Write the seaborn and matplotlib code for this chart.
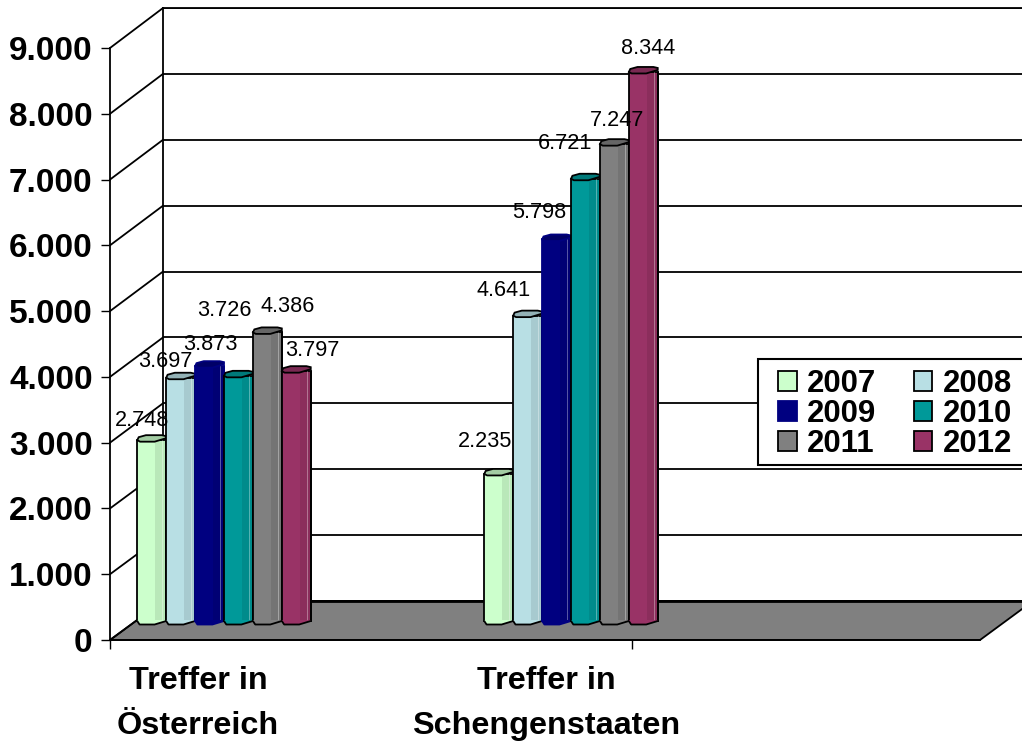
import numpy as np
import pandas as pd
import matplotlib
matplotlib.use("Agg")
import matplotlib.pyplot as plt
from matplotlib.lines import Line2D
from matplotlib.patches import Polygon, Rectangle
import seaborn as sns

# ---- data ----
categories = ["Treffer in\nÖsterreich", "Treffer in\nSchengenstaaten"]
years = ["2007", "2008", "2009", "2010", "2011", "2012"]
values_at = [2748, 3697, 3873, 3726, 4386, 3797]
values_schengen = [2235, 4641, 5798, 6721, 7247, 8344]
colors = ["#CCFFCC", "#B8DFE4", "#000080", "#009999", "#808080", "#993366"]
y_ticks = [0, 1000, 2000, 3000, 4000, 5000, 6000, 7000, 8000, 9000]

W, H = 1022, 743
sns.set_style("white")
plt.rcParams["font.family"] = ["Liberation Sans", "DejaVu Sans"]
fig = plt.figure(figsize=(W / 100, H / 100), dpi=100)
LW = 1.3


def fx(x):
    return x / W


def fy(y):
    return 1 - y / H


def add_axes_px(x0, y_top, x1, y_bottom, **kw):
    return fig.add_axes([fx(x0), fy(y_bottom), (x1 - x0) / W, (y_bottom - y_top) / H], **kw)


fmt = lambda v: f"{v:,}".replace(",", ".")

# ---- back wall ----
back_y0, back_y9 = 601, 8
front_y0, front_y9 = 640, 48
back_x, front_x = 163, 110
ax_back = add_axes_px(back_x, back_y9, W + 5, back_y0, zorder=1)
ax_back.set_ylim(0, 9000)
ax_back.set_xlim(0, 1)
ax_back.set_yticks(y_ticks)
ax_back.set_xticks([])
ax_back.tick_params(left=False, labelleft=False)
ax_back.yaxis.grid(True, color="black", lw=LW)
ax_back.set_axisbelow(True)
for side, sp in ax_back.spines.items():
    sp.set_visible(side in ("left", "top"))
    sp.set_color("black")
    sp.set_linewidth(LW)

# ---- floor ----
floor = Polygon(
    [(fx(front_x), fy(front_y0)), (fx(980), fy(front_y0)), (fx(1033), fy(back_y0)), (fx(back_x), fy(back_y0))],
    closed=True, transform=fig.transFigure, facecolor="#808080", edgecolor="black", lw=LW, zorder=2,
)
fig.add_artist(floor)
fig.add_artist(Line2D([fx(back_x), fx(W)], [fy(back_y0)] * 2, transform=fig.transFigure, color="black", lw=2.0, zorder=2))

# ---- side wall diagonals ----
for v in y_ticks:
    yf = front_y0 + (front_y9 - front_y0) * v / 9000
    yb = back_y0 + (back_y9 - back_y0) * v / 9000
    fig.add_artist(Line2D([fx(front_x), fx(back_x)], [fy(yf), fy(yb)], transform=fig.transFigure,
                          color="black", lw=LW, zorder=2))

# ---- front value axis ----
ax_front = add_axes_px(front_x, front_y9, 980, front_y0, zorder=2.5)
ax_front.patch.set_alpha(0)
ax_front.set_ylim(0, 9000)
ax_front.set_xlim(0, 870)
ax_front.set_yticks(y_ticks, [fmt(v) for v in y_ticks])
ax_front.set_xticks([0, 522], ["", ""])
ax_front.tick_params(axis="both", length=6.5, width=1.0, color="black", left=True, bottom=True)
ax_front.tick_params(axis="y", labelsize=24, pad=6)
for lab in ax_front.get_yticklabels():
    lab.set_fontweight("bold")
    lab.set_color("black")
for side, sp in ax_front.spines.items():
    sp.set_visible(side in ("left", "bottom"))
    sp.set_color("black")
    sp.set_linewidth(LW)

# ---- bars ----
df = pd.DataFrame({
    "cat": [categories[0]] * 6 + [categories[1]] * 6,
    "year": years * 2,
    "value": values_at + values_schengen,
})
ax = fig.add_axes([0, 0, 1, 1], zorder=3)
ax.patch.set_alpha(0)
sns.barplot(data=df, x="cat", y="value", hue="year", hue_order=years, palette=colors, saturation=1,
            width=0.5, gap=0, edgecolor="black", linewidth=LW, ax=ax)

px_x, group0, group1 = 347.0, 224.0, 571.0   # pixels per category, group centres
px_per_val = 0.0658
zero_y = 621.0
ax.set_xlim(-group0 / px_x, (W - group0) / px_x)
ax.set_ylim(-(H - zero_y) / px_per_val, zero_y / px_per_val)
ax.axis("off")
u = 1 / px_per_val  # one pixel in value units

label_offsets = [(-10, -20), (-15, -16), (1, -22), (-14, -65), (20, -26), (16, -21),
                 (-14, -32), (-24, -25), (-17, -27), (-20, -35), (3, -24), (5, -23)]
cap_shape = [(0, 0), (.1, 1.5), (.6, 1.5), (1, -2), (1, -4), (.85, -5), (.3, -5), (.05, -3)]
bottom_shape = [(0, 0), (.08, 3.5), (.6, 3.5), (1, 0)]

labels_pending = []
for i, cont in enumerate(ax.containers):
    col = colors[i]
    edge = col if col == "#000080" else "black"
    for bar in cont:
        bar.set_edgecolor(edge)
        z = 3 + i
        bar.set_zorder(z)
        x0, w, h = bar.get_x(), bar.get_width(), bar.get_height()
        # dark facet on the right, light seams
        ax.fill_between([x0 + .62 * w, x0 + w], 0, h, color="black", alpha=.09, lw=0, zorder=z + .1)
        ax.plot([x0 + .86 * w] * 2, [0, h], color="white", alpha=.35, lw=.7, zorder=z + .15)
        ax.plot([x0 + w] * 2, [0, h], color=edge, lw=LW, zorder=z + .2)
        # rounded foot
        foot = [(x0 + a * w, -b * u) for a, b in bottom_shape]
        ax.add_patch(Polygon(foot + [(x0 + w, u), (x0, u)], closed=True, facecolor=col, edgecolor="none", zorder=z + .2))
        ax.plot([p[0] for p in foot], [p[1] for p in foot], color=edge, lw=LW, zorder=z + .3)
        # top cap
        cap = [(x0 + a * w, h - b * u) for a, b in cap_shape]
        dark = tuple(c * .8 for c in matplotlib.colors.to_rgb(col))
        ax.add_patch(Polygon(cap, closed=True, facecolor=dark, edgecolor=edge, lw=LW, zorder=z + .4))
        labels_pending.append((i, x0 + w / 2, h))

# labels in reading order: group by category, then year
labels_pending.sort(key=lambda t: (int(t[1] > 0.5), t[0]))
for (i, cx, h), (dx, dy) in zip(labels_pending, label_offsets):
    ax.annotate(fmt(int(round(h))), (cx, h), xytext=(dx, -dy), textcoords="offset pixels",
                ha="center", va="center", fontsize=15.6, color="black", zorder=20)

# ---- category labels ----
for text, cx in zip(categories, (198, 546)):
    first, second = text.split("\n")
    fig.text(fx(cx), fy(681), first, ha="center", va="center", fontsize=23.3, fontweight="bold", color="black", zorder=5)
    fig.text(fx(cx), fy(726), second, ha="center", va="center", fontsize=23.3, fontweight="bold", color="black", zorder=5)

# ---- legend: frame runs past the right edge of the picture, entries fill row by row ----
fig.add_artist(Rectangle((fx(758), fy(465)), (1040 - 758) / W, (465 - 359) / H, transform=fig.transFigure,
                         facecolor="white", edgecolor="black", lw=LW * 1.15, zorder=2.8))
order = [0, 2, 4, 1, 3, 5]
handles = [ax.containers[j] for j in order]
leg = ax.legend(handles, [years[j] for j in order], ncol=2, loc="upper left",
                bbox_to_anchor=(fx(778), fy(369)), bbox_transform=fig.transFigure,
                prop={"family": "Liberation Sans", "weight": "bold", "size": 22.4},
                frameon=False, handlelength=.61, handleheight=.61, handletextpad=.32,
                columnspacing=1.2, labelspacing=0.0, borderpad=0, borderaxespad=0)
leg.set_zorder(30)
for text in leg.get_texts():
    text.set_color("black")

fig.savefig("out.png", dpi=100)
